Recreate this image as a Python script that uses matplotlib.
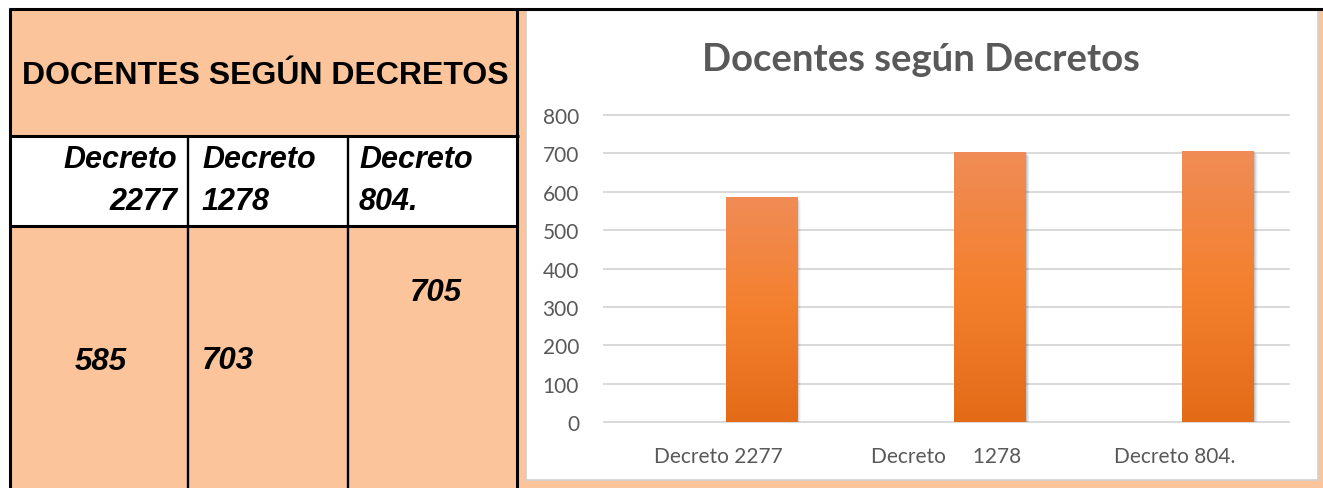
import matplotlib
matplotlib.use('Agg')
import matplotlib.pyplot as plt
import numpy as np
from matplotlib.patches import Rectangle
from matplotlib.colors import LinearSegmentedColormap
import matplotlib.transforms as mtransforms

# ---------------- data ----------------
table_title = "DOCENTES SEGÚN DECRETOS"
table_headers = ["Decreto\n2277", "Decreto\n1278", "Decreto\n804."]
chart_title = "Docentes según Decretos"
categories = ["Decreto 2277", "Decreto     1278", "Decreto 804."]
values = [585, 703, 705]
y_ticks = [0, 100, 200, 300, 400, 500, 600, 700, 800]

# ---------------- figure ----------------
W, H = 1323, 489
fig = plt.figure(figsize=(W / 100, H / 100), dpi=100)
fig.patch.set_facecolor('white')

bg = fig.add_axes([0, 0, 1, 1])
bg.set_xlim(0, W)
bg.set_ylim(H, 0)
bg.axis('off')

PEACH = '#FBC49A'
TBL_FONT = 'Liberation Sans'
CH_FONT = 'Lato'
GRAY = '#595959'

# table fills
bg.add_patch(Rectangle((10, 9), 507, 128, fc=PEACH, ec='none'))
bg.add_patch(Rectangle((10, 137), 507, 90, fc='white', ec='none'))
bg.add_patch(Rectangle((10, 227), 507, H - 227, fc=PEACH, ec='none'))
# area behind chart
bg.add_patch(Rectangle((517, 9), W - 517, H - 9, fc=PEACH, ec='none'))
bg.add_patch(Rectangle((526, 11), 1318 - 526, 481 - 11, fc='white',
                       ec='#D0D0D0', lw=1.2))

# table lines
lw_b = 2.2
bg.plot([9, W], [9.5, 9.5], color='black', lw=lw_b, solid_capstyle='butt')
bg.plot([10, 10], [9, H], color='black', lw=lw_b, solid_capstyle='butt')
bg.plot([517, 517], [9, H], color='black', lw=lw_b, solid_capstyle='butt')
bg.plot([10, 519], [137, 137], color='black', lw=lw_b, solid_capstyle='butt')
bg.plot([10, 517], [227, 227], color='black', lw=lw_b, solid_capstyle='butt')
for cx in (188, 348):
    bg.plot([cx, cx], [137, H], color='black', lw=1.7, solid_capstyle='butt')

# table texts
bg.text(265, 84, table_title, ha='center', va='baseline', fontsize=23,
        fontweight='bold', family=TBL_FONT, color='black')

hdr_pos = [(177, 'right'), (202, 'left'), (359, 'left')]
for (x, ha), lab in zip(hdr_pos, table_headers):
    l1, l2 = lab.split('\n')
    bg.text(x, 168, l1, ha=ha, va='baseline', fontsize=22, fontweight='bold',
            fontstyle='italic', family=TBL_FONT)
    bg.text(x, 210, l2, ha=ha, va='baseline', fontsize=22, fontweight='bold',
            fontstyle='italic', family=TBL_FONT)

val_pos = [(101, 370, 'center'), (202, 369, 'left'), (436, 301, 'center')]
for (x, y, ha), v in zip(val_pos, values):
    bg.text(x, y, f"{v}", ha=ha, va='baseline', fontsize=22.5, fontweight='bold',
            fontstyle='italic', family=TBL_FONT)

# chart title
bg.text(921, 71, chart_title, ha='center', va='baseline', fontsize=27.5,
        fontweight='bold', family=CH_FONT, color=GRAY)

# ---------------- chart ----------------
ax = fig.add_axes([604 / W, (H - 423) / H, (1289 - 604) / W, (423 - 116) / H])
ax.patch.set_alpha(0)
for s in ax.spines.values():
    s.set_visible(False)

x = np.arange(len(categories))
offset = 0.19
width = 0.315

cmap = LinearSegmentedColormap.from_list('orangegrad',
                                         ['#E36B18', '#F4802E', '#F08C56'])
grad = np.linspace(0, 1, 256).reshape(-1, 1)

for xi, v in zip(x, values):
    x0 = xi + offset - width / 2
    # soft shadow
    for k, a in zip((1, 2, 3, 4), (0.10, 0.07, 0.05, 0.03)):
        tr = mtransforms.offset_copy(ax.transData, fig=fig, x=k * 0.9,
                                     y=-k * 0.9, units='dots')
        ax.add_patch(Rectangle((x0, 0), width, v, fc='black', ec='none',
                               alpha=a, transform=tr, zorder=2))
    ax.imshow(grad, extent=[x0, x0 + width, 0, v], origin='lower',
              cmap=cmap, aspect='auto', zorder=3, interpolation='bilinear')

ax.set_xlim(-0.5, 2.5)
ax.set_ylim(0, 800)
ax.set_yticks(y_ticks)
ax.set_xticks(x)
ax.set_xticklabels(categories)
ax.grid(axis='y', color='#D9D9D9', lw=1.4, zorder=1)
for gl in ax.get_ygridlines():
    gl.set_clip_on(False)
ax.set_axisbelow(True)
ax.tick_params(axis='both', length=0, colors=GRAY, labelsize=15)
ax.tick_params(axis='y', pad=18)
ax.tick_params(axis='x', pad=17)
for lab in ax.get_xticklabels() + ax.get_yticklabels():
    lab.set_family(CH_FONT)
    lab.set_color(GRAY)

fig.savefig('out.png', dpi=100)
